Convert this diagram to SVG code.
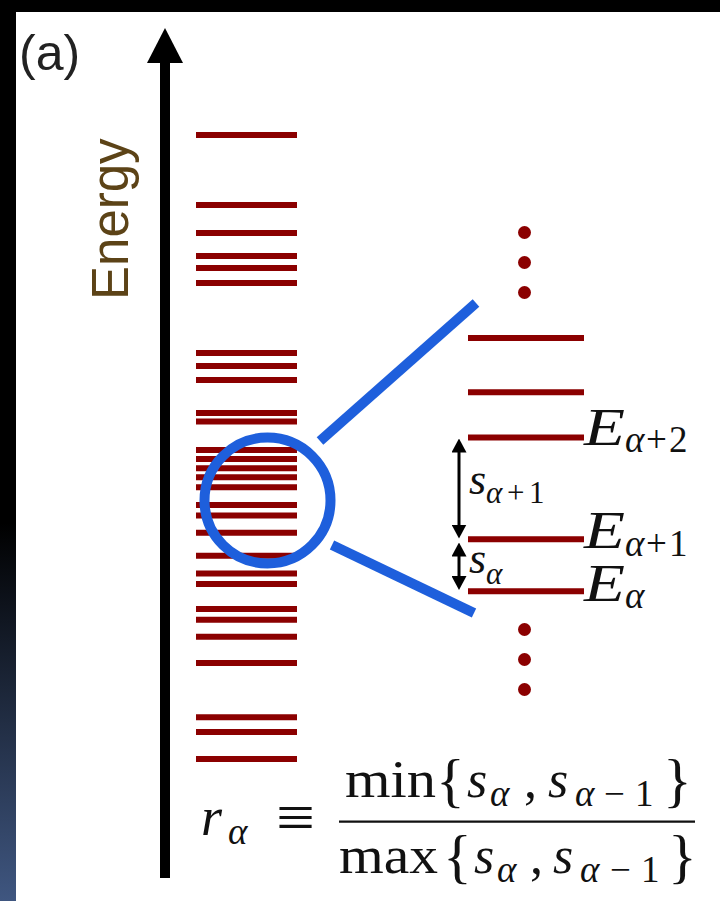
<svg xmlns="http://www.w3.org/2000/svg" width="720" height="901" viewBox="0 0 720 901">
<defs>
<linearGradient id="edge" x1="0" y1="0" x2="0" y2="901" gradientUnits="userSpaceOnUse">
<stop offset="0" stop-color="#000"/>
<stop offset="0.58" stop-color="#000"/>
<stop offset="1" stop-color="#3f5680"/>
</linearGradient>
<marker id="ah" markerUnits="userSpaceOnUse" viewBox="0 0 14 15" markerWidth="14" markerHeight="15" refX="10" refY="7.5" orient="auto-start-reverse">
<path d="M0,0 L14,7.5 L0,15 z" fill="#000"/>
</marker>
</defs>
<style>
.lv{stroke:#8b0000;stroke-width:6;}
.dot{fill:#8b0000;}
.zoom{stroke:#1e5fdc;stroke-width:10;fill:none;}
.math{font-family:"Liberation Serif","Times New Roman",serif;fill:#111;}
.it{font-style:italic;}
.dbl{stroke:#000;stroke-width:3;marker-start:url(#ah);marker-end:url(#ah);}
</style>
<rect x="0" y="0" width="720" height="901" fill="#fff"/>
<rect x="0" y="0" width="720" height="12" fill="#000"/>
<rect x="0" y="0" width="16" height="901" fill="url(#edge)"/>

<g id="label-a"><text x="19" y="70" font-family="Liberation Sans, Arial, sans-serif" font-size="50" fill="#222">(a)</text></g>

<g id="energy-axis">
<rect x="160" y="60" width="10" height="818" fill="#000"/>
<polygon points="147,63 165,28 183,63" fill="#000"/>
<text transform="translate(128,300) rotate(-90)" font-family="Liberation Sans, Arial, sans-serif" font-size="51" fill="#5c4317">Energy</text>
</g>

<g id="spectrum">
<path class="lv" d="M196,135H297M196,205H297M196,233H297M196,256H297M196,268H297M196,283H297M196,353H297M196,366H297M196,380H297M196,413H297M196,421.5H297M196,450H297M196,459H297M196,468.3H297M196,477.3H297M196,487.3H297M196,505H297M196,515.5H297M196,532.7H297M196,555.7H297M196,573.5H297M196,584H297M196,609H297M196,619.7H297M196,636.7H297M196,663H297M196,717.3H297M196,732H297M196,759H297"/>
</g>

<g id="connectors">
<line class="zoom" x1="320" y1="441" x2="476" y2="303"/>
<line class="zoom" x1="332" y1="545" x2="474" y2="613"/>
</g>

<g id="zoom-circle"><circle class="zoom" cx="267.5" cy="500.5" r="63"/></g>

<g id="zoomed-levels">
<circle class="dot" cx="524.5" cy="232.5" r="6.5"/>
<circle class="dot" cx="524.5" cy="262.5" r="6.5"/>
<circle class="dot" cx="524.5" cy="292.5" r="6.5"/>
<path class="lv" d="M468,338H584M468,392.3H584M468,437.5H584M468,539.3H584M468,591.3H584"/>
<circle class="dot" cx="524.5" cy="629.5" r="6.5"/>
<circle class="dot" cx="524.5" cy="659.5" r="6.5"/>
<circle class="dot" cx="524.5" cy="689.5" r="6.5"/>
</g>

<g id="spacings">
<line class="dbl" x1="459" y1="442.5" x2="459" y2="534.5"/>
<line class="dbl" x1="459" y1="546.5" x2="459" y2="586"/>
</g>

<g id="level-labels" class="math">
<text class="it" x="584" y="445" font-size="52" textLength="41" lengthAdjust="spacingAndGlyphs">E</text>
<text x="625" y="452" font-size="37"><tspan class="it">α</tspan><tspan x="646">+</tspan><tspan x="669">2</tspan></text>
<text class="it" x="584" y="548" font-size="52" textLength="41" lengthAdjust="spacingAndGlyphs">E</text>
<text x="625" y="556" font-size="37"><tspan class="it">α</tspan><tspan x="646">+</tspan><tspan x="669">1</tspan></text>
<text class="it" x="584" y="601" font-size="52" textLength="41" lengthAdjust="spacingAndGlyphs">E</text>
<text class="it" x="625" y="608" font-size="37">α</text>
<text class="it" x="469" y="494" font-size="44">s</text>
<text x="486" y="503" font-size="31"><tspan class="it">α</tspan><tspan x="507">+</tspan><tspan x="529">1</tspan></text>
<text class="it" x="469" y="573" font-size="44">s</text>
<text class="it" x="486" y="584" font-size="31">α</text>
</g>

<g id="formula" class="math">
<text class="it" x="201" y="835" font-size="54">r</text>
<text class="it" x="228" y="844" font-size="37">α</text>
<text x="276" y="838" font-size="62" textLength="39" lengthAdjust="spacingAndGlyphs">≡</text>
<line x1="339" y1="821.7" x2="695" y2="821.7" stroke="#111" stroke-width="2.2"/>
<text x="345" y="797" font-size="52" textLength="91" lengthAdjust="spacingAndGlyphs">min</text>
<text x="436" y="800" font-size="60">{</text>
<text class="it" x="467" y="797" font-size="52">s</text>
<text class="it" x="490" y="806" font-size="37">α</text>
<text x="524" y="797" font-size="52">,</text>
<text class="it" x="548" y="797" font-size="52">s</text>
<text x="575" y="806" font-size="37"><tspan class="it">α</tspan><tspan x="604">−</tspan><tspan x="635">1</tspan></text>
<text x="663" y="800" font-size="60">}</text>
<text x="339" y="873" font-size="52" textLength="99" lengthAdjust="spacingAndGlyphs">max</text>
<text x="443" y="876" font-size="60">{</text>
<text class="it" x="474" y="873" font-size="52">s</text>
<text class="it" x="497" y="882" font-size="37">α</text>
<text x="530" y="873" font-size="52">,</text>
<text class="it" x="553" y="873" font-size="52">s</text>
<text x="580" y="882" font-size="37"><tspan class="it">α</tspan><tspan x="610">−</tspan><tspan x="641">1</tspan></text>
<text x="668" y="876" font-size="60">}</text>
</g>
</svg>
